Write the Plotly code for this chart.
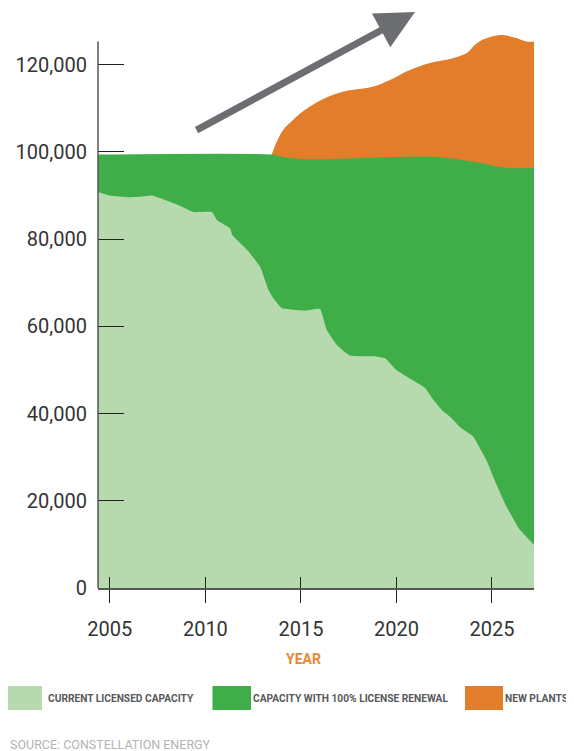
import plotly.graph_objects as go

# ---------------- data (MW) ----------------
years_current = [2004.38, 2005.0, 2006.0, 2006.6, 2007.2, 2008.3, 2008.7, 2009.38, 2010.34, 2010.6,
                 2011.3, 2011.4, 2012.17, 2012.86, 2013.3, 2013.6, 2014.0, 2015.2, 2016.0, 2016.35,
                 2016.87, 2017.57, 2018.87, 2019.4, 2020.0, 2020.53, 2021.49, 2021.92, 2022.36, 2022.8,
                 2023.3, 2024.0, 2024.7, 2025.2, 2025.76, 2026.45, 2027.2]
current_licensed = [90800, 90000, 89600, 89700, 90000, 88300, 87600, 86200, 86200, 84400,
                    82500, 81000, 77600, 73700, 68400, 66200, 64200, 63600, 64000, 59200,
                    55800, 53300, 53100, 52700, 50000, 48500, 45900, 43200, 40900, 39300,
                    37000, 34800, 29400, 24100, 18700, 13400, 9900]

years_renewal = [2004.38, 2013.47, 2014.2, 2014.95, 2016.0, 2017.56, 2019.5, 2021.4, 2022.3, 2023.1,
                 2024.5, 2025.3, 2025.9, 2027.2]
with_renewal = [99400, 99400, 98700, 98400, 98300, 98500, 98800, 98900, 98800, 98400,
                97400, 96600, 96300, 96300]

years_new = [2013.47, 2013.74, 2014.08, 2014.6, 2015.3, 2016.2, 2017.3, 2018.8, 2019.66, 2020.7,
             2021.75, 2022.8, 2023.66, 2024.1, 2024.5, 2025.1, 2025.6, 2026.28, 2026.8, 2027.2]
with_new_plants = [99400, 102400, 105100, 107400, 109900, 112200, 113900, 115000, 116500, 118800,
                   120400, 121300, 122600, 124500, 125700, 126600, 126800, 126100, 125300, 125300]

series_names = ["CURRENT LICENSED CAPACITY", "CAPACITY WITH 100% LICENSE RENEWAL", "NEW PLANTS"]
series_colors = ["#b6d9ae", "#3fae49", "#e17d2b"]

x_ticks = [2005, 2010, 2015, 2020, 2025]
y_ticks = [0, 20000, 40000, 60000, 80000, 100000, 120000]

# ---------------- layout geometry ----------------
# the page body has an 8px default margin, so the figure is laid out 8px smaller
OFF = 8
W, H = 574 - OFF, 751 - OFF
ML, MR, MT, MB = 98 - OFF, 40, 32 - OFF, 163
PW, PH = W - ML - MR, H - MT - MB


def px_x(px):
    """screen x (window pixels) -> paper x"""
    return (px - OFF - ML) / PW


def px_y(py):
    """screen y (window pixels) -> paper y"""
    return (H - MB - (py - OFF)) / PH


FONT = "Roboto, Liberation Sans, Arial, sans-serif"

fig = go.Figure()

series = [
    (years_current, current_licensed, 0.4),
    (years_renewal, with_renewal, 0.6),
    (years_new, with_new_plants, 1.0),
]
# draw the tallest layer first so each band overlays the next
for i in (2, 1, 0):
    xs, ys, sm = series[i]
    col = series_colors[i]
    fig.add_trace(go.Scatter(
        x=xs, y=ys, name=series_names[i], mode="lines", fill="tozeroy", fillcolor=col,
        line=dict(width=0, color=col, shape="spline", smoothing=sm),
        showlegend=False, hoverinfo="skip",
    ))

x_range = [2004.38, 2027.2]
y_range = [0, 127500]

fig.update_layout(
    width=W, height=H,
    margin=dict(l=ML, r=MR, t=MT, b=MB, pad=0, autoexpand=False),
    paper_bgcolor="white", plot_bgcolor="white",
    showlegend=False,
    xaxis=dict(
        range=x_range, tickvals=x_ticks, ticktext=[str(v) for v in x_ticks],
        ticks="outside", ticklen=13, tickwidth=1.3, tickcolor="#222222",
        showline=True, linecolor="#555555", linewidth=1.5,
        showgrid=False, zeroline=False, automargin=False,
        tickfont=dict(family=FONT, size=20, color="#333333"),
        ticklabelstandoff=9,
    ),
    xaxis2=dict(
        range=x_range, tickvals=x_ticks, overlaying="x", anchor="y", side="bottom",
        ticks="inside", ticklen=11, tickwidth=1.3, tickcolor="#222222",
        showticklabels=False, showline=False, showgrid=False, zeroline=False,
        automargin=False,
    ),
    yaxis=dict(
        range=y_range, tickvals=y_ticks, tickformat=",",
        ticks="inside", ticklen=26, tickwidth=1.3, tickcolor="#222222",
        showline=False, showgrid=False, zeroline=False, automargin=False,
        tickfont=dict(family=FONT, size=20, color="#333333"),
        ticklabelstandoff=10,
    ),
)

# dummy trace so the overlaid axis is rendered
fig.add_trace(go.Scatter(x=[x_range[0]], y=[0], xaxis="x2", mode="markers",
                         marker=dict(opacity=0), showlegend=False, hoverinfo="skip"))

shapes = []
# y axis line (ends at 125,300 like the original)
shapes.append(dict(type="line", xref="paper", yref="y", x0=0, x1=0, y0=0, y1=125300,
                   line=dict(color="#555555", width=1.5), layer="above"))

annotations = []
# trend arrow
annotations.append(dict(
    xref="paper", yref="paper", x=px_x(415), y=px_y(12), ax=-220, ay=119,
    axref="pixel", ayref="pixel", text="", showarrow=True,
    arrowhead=2, arrowsize=1.1, arrowwidth=7, arrowcolor="#6d6e71", standoff=0,
))

# axis title
annotations.append(dict(
    xref="paper", yref="paper", x=px_x(303), y=px_y(659), text="<b>YEAR</b>",
    showarrow=False, xanchor="center", yanchor="middle",
    font=dict(family=FONT, size=14, color="#e8892f"),
))

# legend (manual, large swatches)
swatch_x = [(4.5, 42), (212.5, 251), (465, 503)]
text_x = [46, 251, 503]
for (sx0, sx1), tx, name, col in zip(swatch_x, text_x, series_names, series_colors):
    shapes.append(dict(type="rect", xref="paper", yref="paper",
                       x0=px_x(sx0), x1=px_x(sx1), y0=px_y(686), y1=px_y(710),
                       fillcolor=col, line=dict(width=0)))
    annotations.append(dict(
        xref="paper", yref="paper", x=px_x(tx), y=px_y(698), text="<b>" + name + "</b>",
        showarrow=False, xanchor="left", yanchor="middle",
        font=dict(family=FONT, size=10.2, color="#58595b"),
    ))

annotations.append(dict(
    xref="paper", yref="paper", x=px_x(OFF), y=px_y(744), text="SOURCE: CONSTELLATION ENERGY",
    showarrow=False, xanchor="left", yanchor="middle",
    font=dict(family=FONT, size=12.5, color="#b3b3b3"),
))

fig.update_layout(shapes=shapes, annotations=annotations)

fig.write_html("out.html")
